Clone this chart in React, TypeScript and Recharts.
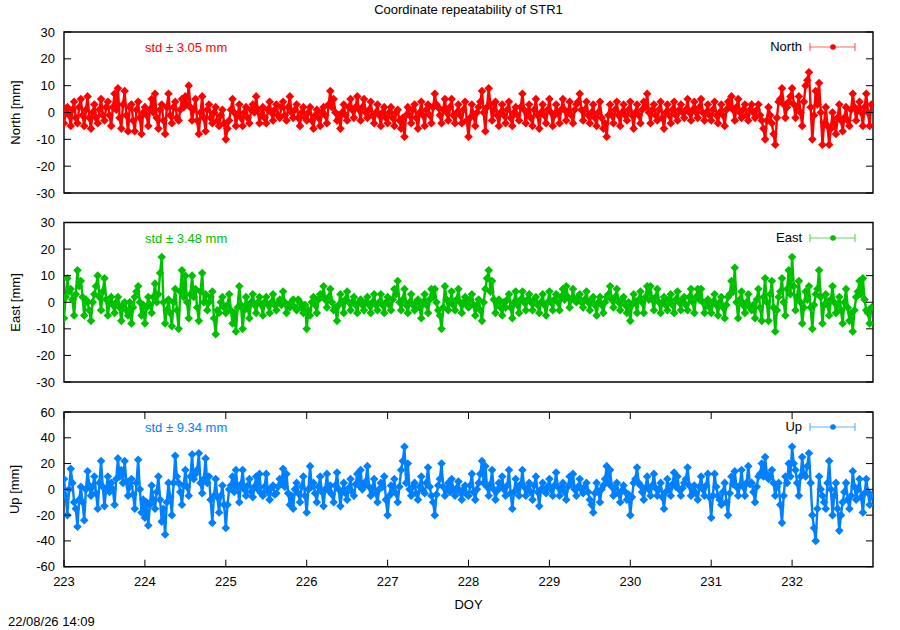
import React from 'react';
import { LineChart, Line, XAxis, YAxis, ReferenceArea } from 'recharts';

const FONT = '"Liberation Sans", Arial, Helvetica, sans-serif';

// day-of-year ticks along the bottom axis
const doyTicks = [223, 224, 225, 226, 227, 228, 229, 230, 231, 232];
const horizTicks = [-30, -20, -10, 0, 10, 20, 30];
const upTicks = [-60, -40, -20, 0, 20, 40, 60];

// half-hourly samples, starting at DOY 223.0
const startDoy = 223;
const samplesPerDay = 48;

// North residuals [mm], one row per day
const north = [
  -4, 0, 2, -1, -5, 1, 4, -2, -4, 2, 5, -1, -5, 1, 6, -2, -6, 0, 3, -2, -4, 1, 5, -1, -3, 2, 4, -1, -5, 2, 7, 1, 9, -2, -6, 3, 8, -1, -7, 2, 3, -3, -7, 1, 4, -2, -8, 0,
  2, -1, -5, 1, 5, 0, 7, -2, -6, 1, 3, -3, -8, 2, 7, -1, -4, 2, 4, -2, -3, 1, 5, 2, 6, 3, 10, 2, -3, 1, 5, -3, -8, 0, 6, -2, -7, 1, 3, -2, -4, 0, 2, -3, -5, -1, 1, -4,
  -10, -6, -3, 1, 5, 0, -5, -1, 3, -2, -5, 0, 2, -2, -4, 1, 3, 0, 6, 1, -4, -1, 2, -2, -4, 1, 4, 0, -3, 1, 3, -1, -2, 2, 4, -1, -3, 2, 6, 0, -2, 1, 3, -2, -5, 0, 2, -2,
  -3, 0, 2, -3, -6, -1, 1, -2, -5, 0, 2, -1, -4, 3, 8, 2, 5, 0, -3, -1, -6, 0, 3, -1, -3, 2, 5, 1, -2, 2, 6, 1, -3, 2, 5, 0, -2, 1, 4, -1, -4, 0, 3, -1, -5, 0, 2, -2,
  -4, 0, 2, -2, -5, 0, 1, -3, -6, -2, -9, -1, 2, -1, -4, 1, 3, -2, -6, 0, 4, -1, -5, 1, 3, -1, -4, 2, 7, 3, 2, -1, -4, 1, 5, 0, -3, 2, 5, -1, -4, 0, 3, -1, -4, 1, 4, -3,
  -9, -2, 3, -1, -5, 0, 2, 4, 8, 0, -7, 2, 9, 3, -3, 1, 4, -1, -5, 0, 3, -1, -4, 1, 4, -2, -5, 0, 2, -1, -3, 2, 7, 1, -4, 0, 3, -2, -5, 1, 5, -1, -6, 0, 3, -1, -4, 1,
  5, 0, -5, -1, 3, 0, -4, 1, 5, 1, -3, 0, 4, -1, -4, 1, 3, 4, 7, 1, -3, 1, 4, -1, -4, 0, 3, -2, -5, 0, 4, -2, -6, -4, -9, -1, 3, -1, -4, 1, 4, -1, -5, 0, 3, -1, -3, 1,
  4, -1, -6, 0, 3, -1, -4, 1, 4, 2, 7, 0, -4, 1, 3, -1, -3, 1, 4, -2, -6, 0, 3, -1, -4, 1, 4, -1, -3, 1, 3, 0, -2, 1, 5, 0, -3, 1, 4, 0, -2, 2, 5, 0, -3, 0, 3, -1,
  -3, 1, 4, -1, -4, 0, 3, -1, -5, 1, 4, 2, 6, 1, -3, 2, 5, 0, -2, 1, 3, -1, -3, 1, 3, 0, -2, 1, 3, -1, -3, -6, -10, -3, 2, -1, -4, -8, -12, -2, 4, 5, 9, 3, -2, 2, 4, 6,
  9, 3, -2, 2, 6, 0, -5, 4, 10, 12, 15, 2, -10, -1, 8, 3, 11, 0, -12, -4, 2, -5, -12, -6, 0, -4, -8, -2, 3, -3, -7, -2, 2, -3, -5, 1, 7, 2, -3, 1, 4, 0, -5, 2, 7, 0, -5, 3,
];

// East residuals [mm]
const east = [
  -6, 2, 9, 4, 5, 1, -5, 3, 12, 6, 8, 2, -5, 1, 0, -3, -7, 0, 3, 6, 10, 2, -3, 4, 9, 1, -5, 0, 2, -1, -4, 0, 2, -2, -7, -1, 0, -3, -5, 0, -8, -2, 2, 4, 6, 0, -5, -1,
  -8, -2, 2, -1, -4, 2, 7, 0, 3, 11, 17, 0, -8, -3, 1, -4, -9, 0, 5, -3, -10, 4, 12, 2, 10, 0, -6, 3, 10, 2, 5, -2, -7, 4, 11, 0, 3, -3, 0, 2, 4, -6, -12, -3, -4, 0, 2, -2,
  -4, -1, 3, -3, -8, -4, -11, -2, 6, -1, -10, -3, 2, -2, -6, 0, 3, -1, -4, 0, 2, -1, -5, 0, 2, -1, -4, 0, 3, -1, -3, 0, 1, -1, 4, 0, -4, -1, -2, 0, 1, -2, -3, 1, 0, -2, -4, -1,
  -10, -3, -5, 0, 2, -1, -4, 1, 3, 2, 6, 1, -2, 2, 5, 0, -3, -2, -7, -1, 3, 0, -4, 1, 4, 0, -3, 0, 2, -1, -4, 0, 1, -1, -3, 0, 2, -1, -4, 0, 3, -1, -3, 0, 3, -1, -4, 0,
  2, -1, -3, 1, 5, 3, 8, 0, -3, 1, 5, -1, -4, 0, 3, -1, -3, 0, 1, -2, -6, 0, 3, -1, -4, 1, 5, 2, 5, 0, -3, -5, -10, -2, 6, 1, -3, 0, 4, -1, -3, 1, 5, 0, -4, 0, 2, -1,
  -2, 1, 3, -1, -5, -1, 1, -3, -7, 0, 5, 9, 12, 4, 8, 1, -4, 0, 1, -2, -5, 0, -2, 1, 3, -2, -6, 0, 4, -1, -4, 1, 4, 0, -3, 1, 3, 0, -3, 1, 2, -1, -4, 0, 3, -1, -5, 0,
  4, 0, -3, 1, 3, 0, -3, 2, 5, 1, 6, 2, -2, 1, 5, 1, 0, 2, 3, 0, -2, 1, 4, 0, -3, 1, 2, -1, -5, 0, 2, -1, -4, 0, 2, 3, 6, 1, -2, 2, 5, 0, -3, 1, 2, -1, -4, 0,
  -7, -1, 3, 0, -4, 1, 4, 0, -4, 2, 6, 1, 6, 1, -3, 2, 5, 0, -4, 0, 2, -1, -3, 1, 3, -1, -4, 1, 4, 0, -3, 1, 2, -1, -3, 2, 5, 0, -4, 2, 5, 1, 5, 0, -4, -1, 1, -2,
  -4, 0, 3, -1, -5, 0, 2, -2, -6, -1, 2, 3, 8, 4, 13, 0, -6, 1, 4, -1, -4, 0, 3, -2, -3, -1, -6, 1, 5, -2, -7, 2, 9, 0, -7, 3, 8, -2, -11, -3, 2, 4, 9, 0, -5, 5, 12, 3,
  17, 6, -3, 2, 8, 0, -8, -2, 4, 1, 6, -2, -10, -1, 3, 5, 12, 2, -8, -1, 3, -1, -5, 1, 6, 0, -4, -1, 2, -3, -8, 0, 5, -2, -7, -4, -11, -3, 2, 4, 8, 3, 9, 1, -3, -4, -8, -2,
];

// Up residuals [mm]
const up = [
  8, -5, -20, 0, 16, 5, -10, -15, -29, -8, 2, -10, -24, 0, 14, 3, -5, 2, 10, -3, -15, 5, 22, 2, -13, 0, 10, -2, 5, 0, -12, 8, 24, 10, 15, 5, 22, 6, -5, 2, 8, -4, -15, 5, 23, 0, -18, -8,
  -22, -10, -28, -12, 3, -8, -15, -2, 10, -8, -25, -15, -35, -10, 5, -6, -20, 5, 26, 10, 5, -2, -12, 3, 15, 2, -5, 10, 27, 8, 12, 15, 28, 5, -3, 8, 24, 5, 10, -8, -26, -5, 8, -6, -18, -5, 3, -12,
  -30, -12, 0, 3, 10, -2, 15, 2, -10, 4, 15, 0, -5, 3, 8, -2, -6, 2, 10, 0, 12, -3, -5, 2, 12, -2, -8, 1, 3, -4, -3, 2, 8, 5, 16, 2, 12, -3, -12, -5, -15, 0, 5, -3, -10, 2, 10, -5,
  -18, 0, 18, 2, 5, -3, -10, 2, 10, -2, -13, 0, 12, -1, 3, -4, -10, 3, 13, 0, -13, -2, 5, -3, -8, 1, 8, -2, -5, 4, 12, 3, 15, 0, 3, 6, 18, 2, -5, 1, 8, -3, -10, 0, 5, 2, 10, -8,
  -20, -5, 3, -2, 8, -3, -10, 2, 15, 22, 33, 5, 20, 0, -5, 2, 5, -3, -8, 2, 10, -1, -3, 5, 17, 2, -5, -10, -20, -4, 3, 8, 20, 2, -5, 0, 5, -2, 8, 0, -5, 1, 6, -2, -8, 0, 3, -4,
  -5, 3, 12, -2, -8, 0, 5, 12, 22, 5, 18, 2, -5, 4, 15, 0, -8, -1, 5, 2, 10, 0, -5, 3, 15, -3, -15, -2, 8, 0, -5, 4, 15, 2, -5, 0, 5, -2, -8, 3, 10, -2, -13, 0, 5, -1, -3, 2,
  8, 0, -5, 3, 13, 2, -5, 1, 5, -2, -8, 2, 10, 4, 12, 0, -5, 2, 8, 0, -3, 2, 5, -2, -8, -12, -18, -3, 5, -2, -10, 0, 3, 8, 18, 5, 15, 2, -5, 1, 5, -3, -10, -1, 3, -2, -8, -4,
  -20, -6, 5, 8, 17, 5, 3, -2, -8, 1, 10, 0, -5, 3, 12, 1, -5, 0, 5, -6, -15, -2, 8, 0, -5, 4, 13, 2, 10, 0, -5, 1, 5, 8, 17, 3, -5, 0, 3, -3, -8, 2, 10, 0, -5, 3, 12, -6,
  -22, -5, 12, 2, -5, -8, -12, -2, 5, -10, -20, -3, 10, 4, 14, 2, -5, 3, 15, 2, -5, 5, 18, 4, 5, -2, -10, 2, 10, 12, 20, 10, 25, 12, 8, 10, 15, 5, -5, 2, 5, -12, -26, -5, 10, 5, 20, 10,
  33, 20, 15, 5, -5, 10, 25, 12, 10, 18, 28, 5, -20, -30, -40, -15, 10, 0, -5, -10, -15, 5, 22, 0, -20, -5, 5, -15, -32, -20, -10, -2, 5, -8, -15, -5, 14, 2, -8, 0, 8, -6, -18, -3, 8, -2, -12, -5,
];

const toRows = (values: number[]) =>
  values.map((v, i) => ({ doy: startDoy + i / samplesPerDay, value: v }));

const PLOT_LEFT = 64;
const PLOT_RIGHT = 873;
const WIDTH = 900;

const diamond = (color: string) => (p: any) => {
  const { cx, cy, index } = p;
  if (cx == null || cy == null) return <g key={`d${index}`} />;
  const r = 4.3;
  return (
    <polygon
      key={`d${index}`}
      points={`${cx},${cy - r} ${cx + r},${cy} ${cx},${cy + r} ${cx - r},${cy}`}
      fill={color}
    />
  );
};

type PanelProps = {
  top: number;
  height: number;
  plotTop: number;
  plotBottom: number;
  values: number[];
  color: string;
  name: string;
  yLabel: string;
  std: string;
  yTicks: number[];
  showX: boolean;
};

function Panel({ top, height, plotTop, plotBottom, values, color, name, yLabel, std, yTicks, showX }: PanelProps) {
  const rows = toRows(values);
  const xAxisH = showX ? 30 : 0;
  const yMin = yTicks[0];
  const yMax = yTicks[yTicks.length - 1];

  const yTick = (p: any) => (
    <g>
      <text x={55} y={p.y} textAnchor="end" dominantBaseline="central" fontSize={13} fontFamily={FONT} fill="#000">
        {p.payload.value}
      </text>
      <line x1={PLOT_LEFT} x2={PLOT_LEFT + 7} y1={p.y} y2={p.y} stroke="#000" />
      <line x1={PLOT_RIGHT - 7} x2={PLOT_RIGHT} y1={p.y} y2={p.y} stroke="#000" />
    </g>
  );

  const xTick = (p: any) => (
    <g>
      <text x={p.x} y={plotBottom + 15} textAnchor="middle" dominantBaseline="central" fontSize={13} fontFamily={FONT} fill="#000">
        {p.payload.value}
      </text>
      <line x1={p.x} x2={p.x} y1={plotBottom} y2={plotBottom - 7} stroke="#000" />
      <line x1={p.x} x2={p.x} y1={plotTop} y2={plotTop + 7} stroke="#000" />
    </g>
  );

  const mid = (plotTop + plotBottom) / 2;

  return (
    <div style={{ position: 'absolute', left: 0, top, width: WIDTH, height }}>
      <LineChart
        width={WIDTH}
        height={height}
        data={rows}
        margin={{ top: plotTop, right: WIDTH - PLOT_RIGHT, left: 0, bottom: height - plotBottom - xAxisH }}
      >
        <XAxis
          dataKey="doy"
          type="number"
          domain={[223, 233]}
          ticks={doyTicks}
          interval={0}
          hide={!showX}
          height={30}
          axisLine={false}
          tickLine={false}
          tick={showX ? xTick : false}
          allowDataOverflow
        />
        <YAxis
          type="number"
          domain={[yMin, yMax]}
          ticks={yTicks}
          interval={0}
          width={64}
          axisLine={false}
          tickLine={false}
          tick={yTick}
          allowDataOverflow
        />
        <ReferenceArea x1={223} x2={233} y1={yMin} y2={yMax} fill="none" fillOpacity={0} stroke="#000" strokeWidth={1.4} />
        <Line
          type="linear"
          dataKey="value"
          stroke={color}
          strokeWidth={2.4}
          dot={diamond(color)}
          activeDot={false}
          isAnimationActive={false}
        />
      </LineChart>
      <div
        style={{
          position: 'absolute', left: 8, top: mid - 8, width: 14, height: 16,
          display: 'flex', alignItems: 'center', justifyContent: 'center',
        }}
      >
        <div style={{ transform: 'rotate(-90deg)', whiteSpace: 'nowrap', fontSize: 13, fontFamily: FONT }}>{yLabel}</div>
      </div>
      <div
        style={{
          position: 'absolute', left: 145, top: plotTop + 8, lineHeight: '16px',
          fontSize: 13, fontFamily: FONT, color, whiteSpace: 'nowrap',
        }}
      >
        {std}
      </div>
      <div
        style={{
          position: 'absolute', left: 600, width: 202, top: plotTop + 7, lineHeight: '16px',
          fontSize: 13, fontFamily: FONT, color: '#000', textAlign: 'right',
        }}
      >
        {name}
      </div>
      <svg style={{ position: 'absolute', left: 808, top: plotTop + 9 }} width={50} height={12}>
        <g stroke={color} strokeOpacity={0.6} strokeWidth={1.2}>
          <line x1={2} x2={47} y1={6} y2={6} />
          <line x1={2} x2={2} y1={2} y2={10} />
          <line x1={47} x2={47} y1={2} y2={10} />
        </g>
        <circle cx={25} cy={6} r={2.8} fill={color} />
      </svg>
    </div>
  );
}

export default function App() {
  return (
    <div style={{ position: 'absolute', left: 0, top: 0, width: 900, height: 630, background: '#fff', fontFamily: FONT }}>
      <div style={{ position: 'absolute', left: 64, width: 809, top: 2, lineHeight: '16px', textAlign: 'center', fontSize: 13 }}>
        Coordinate repeatability of STR1
      </div>
      <Panel top={0} height={200} plotTop={32} plotBottom={193} values={north} color="#ff0000"
        name="North" yLabel="North [mm]" std="std ± 3.05 mm" yTicks={horizTicks} showX={false} />
      <Panel top={200} height={200} plotTop={22.5} plotBottom={182} values={east} color="#00c000"
        name="East" yLabel="East [mm]" std="std ± 3.48 mm" yTicks={horizTicks} showX={false} />
      <Panel top={400} height={230} plotTop={12} plotBottom={166.7} values={up} color="#0080ff"
        name="Up" yLabel="Up [mm]" std="std ± 9.34 mm" yTicks={upTicks} showX={true} />
      <div style={{ position: 'absolute', left: 64, width: 809, top: 597, lineHeight: '16px', textAlign: 'center', fontSize: 13 }}>
        DOY
      </div>
      <div style={{ position: 'absolute', left: 8, top: 614, lineHeight: '16px', fontSize: 13 }}>
        22/08/26 14:09
      </div>
    </div>
  );
}
